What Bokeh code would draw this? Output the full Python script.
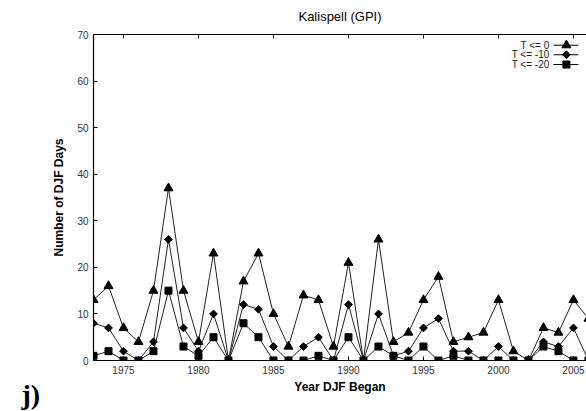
from bokeh.plotting import figure
from bokeh.models import Range1d, LinearAxis, Label, FixedTicker
from bokeh.core.properties import value
from bokeh.embed import file_html
from bokeh.resources import INLINE

# DJF winters (year the season began) and day counts per threshold
years = list(range(1973, 2007))
t_le_0 = [13, 16, 7, 4, 15, 37, 15, 4, 23, 0, 17, 23, 10, 3, 14, 13, 3,
          21, 0, 26, 4, 6, 13, 18, 4, 5, 6, 13, 2, 0, 7, 6, 13, 9]
t_le_m10 = [8, 7, 2, 0, 4, 26, 7, 2, 10, 0, 12, 11, 3, 0, 3, 5, 0,
            12, 0, 10, 1, 2, 7, 9, 2, 2, 0, 3, 0, 0, 4, 3, 7, 0]
t_le_m20 = [1, 2, 0, 0, 2, 15, 3, 1, 5, 0, 8, 5, 0, 0, 0, 1, 0,
            5, 0, 3, 1, 0, 3, 0, 1, 0, 0, 0, 0, 0, 3, 2, 0, 0]

series_labels = ["T <= 0", "T <= -10", "T <= -20"]
x_ticks = [1975, 1980, 1985, 1990, 1995, 2000, 2005]
y_ticks = [0, 10, 20, 30, 40, 50, 60, 70]

FONT = "Liberation Sans"

p = figure(width=586, height=411, output_backend="svg", toolbar_location=None,
           x_range=Range1d(1973, 2005.87), y_range=Range1d(0, 70),
           min_border_left=93, min_border_right=0, min_border_top=32,
           min_border_bottom=51, background_fill_color="white",
           border_fill_color="white")
p.outline_line_color = None
p.grid.visible = False

p.title.text = "Kalispell (GPI)"
p.title.align = "center"
p.title.vertical_align = "top"
p.title.text_font = FONT
p.title.text_font_size = "13px"
p.title.text_font_style = "normal"
p.title.text_color = "black"
p.title.standoff = 17


def style_axis(ax, ticks):
    ax.ticker = FixedTicker(ticks=ticks)
    ax.minor_tick_line_color = None
    ax.major_tick_in = 4
    ax.major_tick_out = 0
    ax.axis_line_color = "black"
    ax.axis_line_width = 1.2
    ax.major_tick_line_color = "black"
    ax.major_label_text_font = FONT
    ax.major_label_text_font_size = "10px"
    ax.major_label_text_color = "#333333"
    ax.axis_label_text_font = FONT
    ax.axis_label_text_font_size = "12px"
    ax.axis_label_text_font_style = "bold"
    ax.axis_label_text_color = "black"


style_axis(p.xaxis[0], x_ticks)
p.xaxis[0].axis_label = "Year DJF Began"
p.xaxis[0].major_label_standoff = 5
p.xaxis[0].axis_label_standoff = 3

style_axis(p.yaxis[0], y_ticks)
p.yaxis[0].axis_label = "Number of DJF Days"
p.yaxis[0].major_label_standoff = 5
p.yaxis[0].axis_label_standoff = 8

# top frame edge: ticks only, no labels
top_axis = LinearAxis()
style_axis(top_axis, x_ticks)
top_axis.major_label_overrides = {t: "" for t in x_ticks}
top_axis.major_label_standoff = 0
p.add_layout(top_axis, "above")

# series: lines with markers
line_col = "#222222"
specs = [
    (t_le_0, dict(marker="triangle", size=9)),
    (t_le_m10, dict(marker="square", size=5.5, angle=0.785398)),
    (t_le_m20, dict(marker="square", size=7)),
]
for vals, mk in specs:
    p.line(years, vals, line_color=line_col, line_width=1)
    p.scatter(years, vals, color="black", **mk)

# key in the upper right corner: label, then line sample with marker
key_rows = [67.7, 65.65, 63.55]
for label, row_y, (_, mk) in zip(series_labels, key_rows, specs):
    p.line([2003.67, 2005.33], [row_y, row_y], line_color="black", line_width=1)
    p.scatter([2004.53], [row_y], color="black", **mk)
    p.text(x=[2003.4], y=[row_y], text=[label], text_align="right",
           text_baseline="middle", text_font=value(FONT),
           text_font_size=value("10px"), text_color="#222222")

# panel letter at the lower left
panel = Label(x=-9, y=-34, x_units="screen", y_units="screen", text="j)",
              text_font="Liberation Serif", text_font_size="28px",
              text_font_style="bold", text_color="black",
              text_baseline="alphabetic")
p.add_layout(panel, "left")

open("out.html", "w").write(file_html(p, INLINE))
